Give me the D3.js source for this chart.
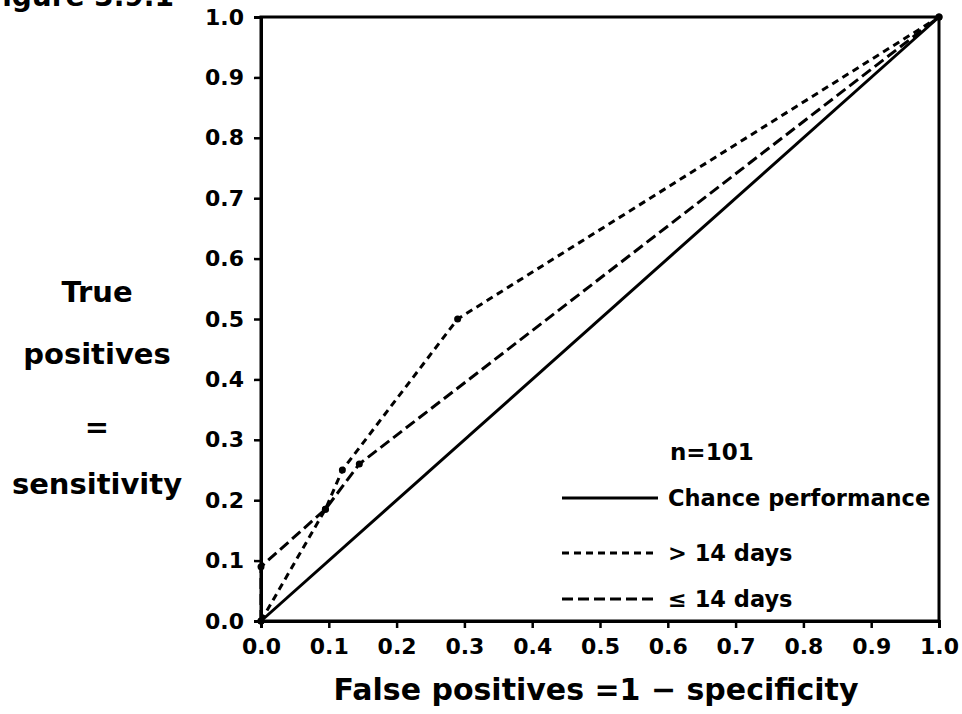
<!DOCTYPE html>
<html>
<head>
<meta charset="utf-8">
<script src="https://cdn.jsdelivr.net/npm/d3@7"></script>
<style>
  html, body { margin: 0; padding: 0; background: #fff; }
  svg { display: block; }
  text { font-family: "DejaVu Sans", sans-serif; font-weight: bold; fill: #000; }
</style>
</head>
<body>
<svg id="chart" width="962" height="714"></svg>
<script>
// ROC curves: sensitivity vs. 1 - specificity
const ticks = [0, 0.1, 0.2, 0.3, 0.4, 0.5, 0.6, 0.7, 0.8, 0.9, 1.0];

const chanceFP = [0, 1];
const chanceTP = [0, 1];

const over14FP = [0, 0.095, 0.12, 0.29, 1];
const over14TP = [0, 0.185, 0.25, 0.50, 1];

const upTo14FP = [0, 0, 0.095, 0.145, 1];
const upTo14TP = [0, 0.09, 0.185, 0.26, 1];

const seriesNames = ["Chance performance", "> 14 days", "\u2264 14 days"];
const sampleNote = "n=101";

const svg = d3.select("#chart");
const x = d3.scaleLinear().domain([0, 1]).range([261, 939]);
const y = d3.scaleLinear().domain([0, 1]).range([621, 17]);

const stroke = 3;
const dashes = ["none", "7,5", "11,5"];

// caption fragment running off the top edge
svg.append("text")
  .attr("x", -17).attr("y", 6)
  .style("font-size", "28px")
  .text("Figure 3.9.1");

// frame (top and right borders)
svg.append("rect")
  .attr("x", x(0)).attr("y", y(1))
  .attr("width", x(1) - x(0)).attr("height", y(0) - y(1))
  .attr("fill", "none").attr("stroke", "#000").attr("stroke-width", stroke);

// axes
const xAxis = d3.axisBottom(x).tickValues(ticks).tickFormat(d3.format(".1f")).tickSize(7).tickPadding(10);
const yAxis = d3.axisLeft(y).tickValues(ticks).tickFormat(d3.format(".1f")).tickSize(7).tickPadding(10);

const gx = svg.append("g").attr("transform", `translate(0,${y(0)})`).call(xAxis);
const gy = svg.append("g").attr("transform", `translate(${x(0)},0)`).call(yAxis);
[gx, gy].forEach(g => {
  g.select(".domain").attr("stroke", "#000").attr("stroke-width", stroke);
  g.selectAll(".tick line").attr("stroke", "#000").attr("stroke-width", 2.5);
  g.selectAll(".tick text")
    .style("font-family", "DejaVu Sans, sans-serif")
    .style("font-weight", "bold")
    .style("font-size", "22px")
    .attr("fill", "#000");
});

// curves
const line = d3.line().x(d => x(d[0])).y(d => y(d[1]));
const curves = [
  d3.zip(chanceFP, chanceTP),
  d3.zip(over14FP, over14TP),
  d3.zip(upTo14FP, upTo14TP)
];
curves.forEach((pts, i) => {
  svg.append("path")
    .attr("d", line(pts))
    .attr("fill", "none")
    .attr("stroke", "#000")
    .attr("stroke-width", stroke)
    .attr("stroke-dasharray", dashes[i]);
  if (i > 0) {
    svg.selectAll(null).data(pts).enter().append("circle")
      .attr("cx", d => x(d[0])).attr("cy", d => y(d[1]))
      .attr("r", 3.5).attr("fill", "#000");
  }
});

// legend
const legX0 = 562, legX1 = 658, legText = 668;
svg.append("text").attr("x", 670).attr("y", 460).style("font-size", "23px").text(sampleNote);
const legY = [498, 553, 599];
seriesNames.forEach((name, i) => {
  svg.append("line")
    .attr("x1", legX0).attr("x2", legX1)
    .attr("y1", legY[i]).attr("y2", legY[i])
    .attr("stroke", "#000").attr("stroke-width", stroke)
    .attr("stroke-dasharray", dashes[i]);
  svg.append("text")
    .attr("x", legText).attr("y", legY[i] + 8)
    .style("font-size", "22.5px")
    .text(name);
});

// axis titles
svg.append("text")
  .attr("x", 596).attr("y", 700)
  .attr("text-anchor", "middle")
  .style("font-size", "30px")
  .text("False positives =1 \u2212 specificity");

const yTitle = [["True", 302], ["positives", 364], ["=", 437], ["sensitivity", 494]];
yTitle.forEach(([t, yy]) => {
  svg.append("text")
    .attr("x", 97).attr("y", yy)
    .attr("text-anchor", "middle")
    .style("font-size", "29px")
    .text(t);
});
</script>
</body>
</html>
